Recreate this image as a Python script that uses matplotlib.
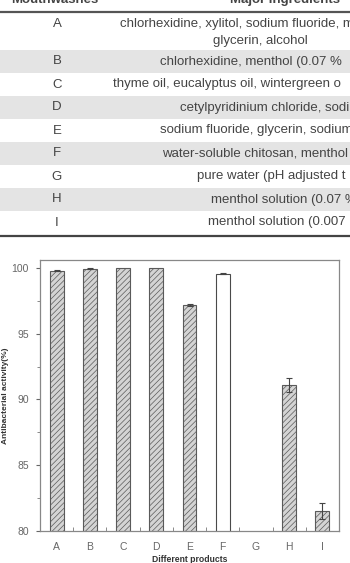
import matplotlib.pyplot as plt
import numpy as np

plt.rcParams["font.family"] = ["Liberation Sans", "DejaVu Sans"]
plt.rcParams["hatch.linewidth"] = 0.5

# table (top part, cropped in the reference)
header = ["Mouthwashes", "Major ingredients"]
row_labels = ["A", "B", "C", "D", "E", "F", "G", "H", "I"]
ingredients = [
    ["chlorhexidine, xylitol, sodium fluoride, m", "glycerin, alcohol"],
    ["chlorhexidine, menthol (0.07 %"],
    ["thyme oil, eucalyptus oil, wintergreen o"],
    ["cetylpyridinium chloride, sodiu"],
    ["sodium fluoride, glycerin, sodium"],
    ["water-soluble chitosan, menthol"],
    ["pure water (pH adjusted t"],
    ["menthol solution (0.07 %"],
    ["menthol solution (0.007"],
]
text_start = [120, 160, 113, 180, 160, 162, 197, 211, 208]
line2_start = [213]

# bar chart
products = ["A", "B", "C", "D", "E", "F", "G", "H", "I"]
activity = [99.8, 99.95, 100.0, 100.0, 97.2, 99.55, 0.0, 91.1, 81.5]
errors = [0.05, 0.05, 0.0, 0.0, 0.07, 0.05, 0.0, 0.5, 0.6]
hatched = [True, True, True, True, True, False, False, True, True]

W, H = 350, 563
fs = 9.5
fig = plt.figure(figsize=(3.5, 5.63), dpi=100)

# ---- table drawn in pixel coordinates
tab = fig.add_axes([0, 0, 1, 1])
tab.set_xlim(0, W)
tab.set_ylim(H, 0)
tab.axis("off")

top_line = 12
row_h = 23
first_h = 38
bounds = [top_line, top_line + first_h]
for i in range(1, len(row_labels)):
    bounds.append(bounds[-1] + row_h)

for i, lab in enumerate(row_labels):
    y0, y1 = bounds[i], bounds[i + 1]
    if i % 2 == 1:
        tab.axhspan(y0, y1, xmin=0, xmax=1, color="#e4e4e4", lw=0, zorder=0)
    lines = ingredients[i]
    yc = (y0 + y1) / 2 if len(lines) == 1 else y0 + 12
    tab.text(57, yc, lab, ha="center", va="center", fontsize=fs, color="#444444")
    tab.text(text_start[i], yc, lines[0], ha="left", va="center", fontsize=fs, color="#444444")
    if len(lines) > 1:
        tab.text(line2_start[0], yc + 17, lines[1], ha="left", va="center", fontsize=fs, color="#444444")

tab.axhline(top_line, color="#555555", lw=1.6)
tab.axhline(bounds[-1] + 1.5, color="#444444", lw=1.6)
tab.text(55, 3, header[0], ha="center", va="baseline", fontsize=fs, fontweight="bold", color="#444444")
tab.text(285, 3, header[1], ha="center", va="baseline", fontsize=fs, fontweight="bold", color="#444444")

# ---- bar chart
ax = fig.add_axes([40 / W, (H - 531) / H, (339 - 40) / W, (531 - 260) / H])
x = np.arange(len(products))
for i in range(len(products)):
    if hatched[i]:
        ax.bar(x[i], activity[i], width=0.42, color="#d4d4d4", edgecolor="#5a5a5a",
               hatch="//////", linewidth=0.8, zorder=2)
    else:
        ax.bar(x[i], activity[i], width=0.42, color="white", edgecolor="#4a4a4a",
               linewidth=0.8, zorder=2)
    if errors[i] > 0:
        ax.errorbar(x[i], activity[i], yerr=errors[i], fmt="none", ecolor="#444444",
                    elinewidth=0.8, capsize=2.5, capthick=0.8, zorder=3)

ax.set_xlim(-0.5, len(products) - 0.5)
ax.set_ylim(80, 100.6)
ax.set_yticks([80, 85, 90, 95, 100])
ax.set_yticks(np.arange(82.5, 100, 5), minor=True)
ax.set_xticks(x)
ax.set_xticklabels(products)
ax.set_xticks(np.arange(0.5, len(products) - 0.5, 1), minor=True)
ax.tick_params(axis="x", which="major", length=0, labelsize=7.5, colors="#666666", pad=8)
ax.tick_params(axis="x", which="minor", direction="in", length=3, color="#777777")
ax.tick_params(axis="y", which="major", direction="out", length=3, labelsize=7.5,
               colors="#666666", pad=5)
ax.tick_params(axis="y", which="minor", direction="out", length=2, color="#777777")
for s in ax.spines.values():
    s.set_color("#888888")
    s.set_linewidth(0.9)
ax.set_ylabel("Antibacterial activity(%)", fontsize=6, fontweight="bold", color="#333333", labelpad=2)
ax.set_xlabel("Different products", fontsize=6.2, fontweight="bold", color="#333333", labelpad=2)

fig.savefig("out.png", dpi=100)
